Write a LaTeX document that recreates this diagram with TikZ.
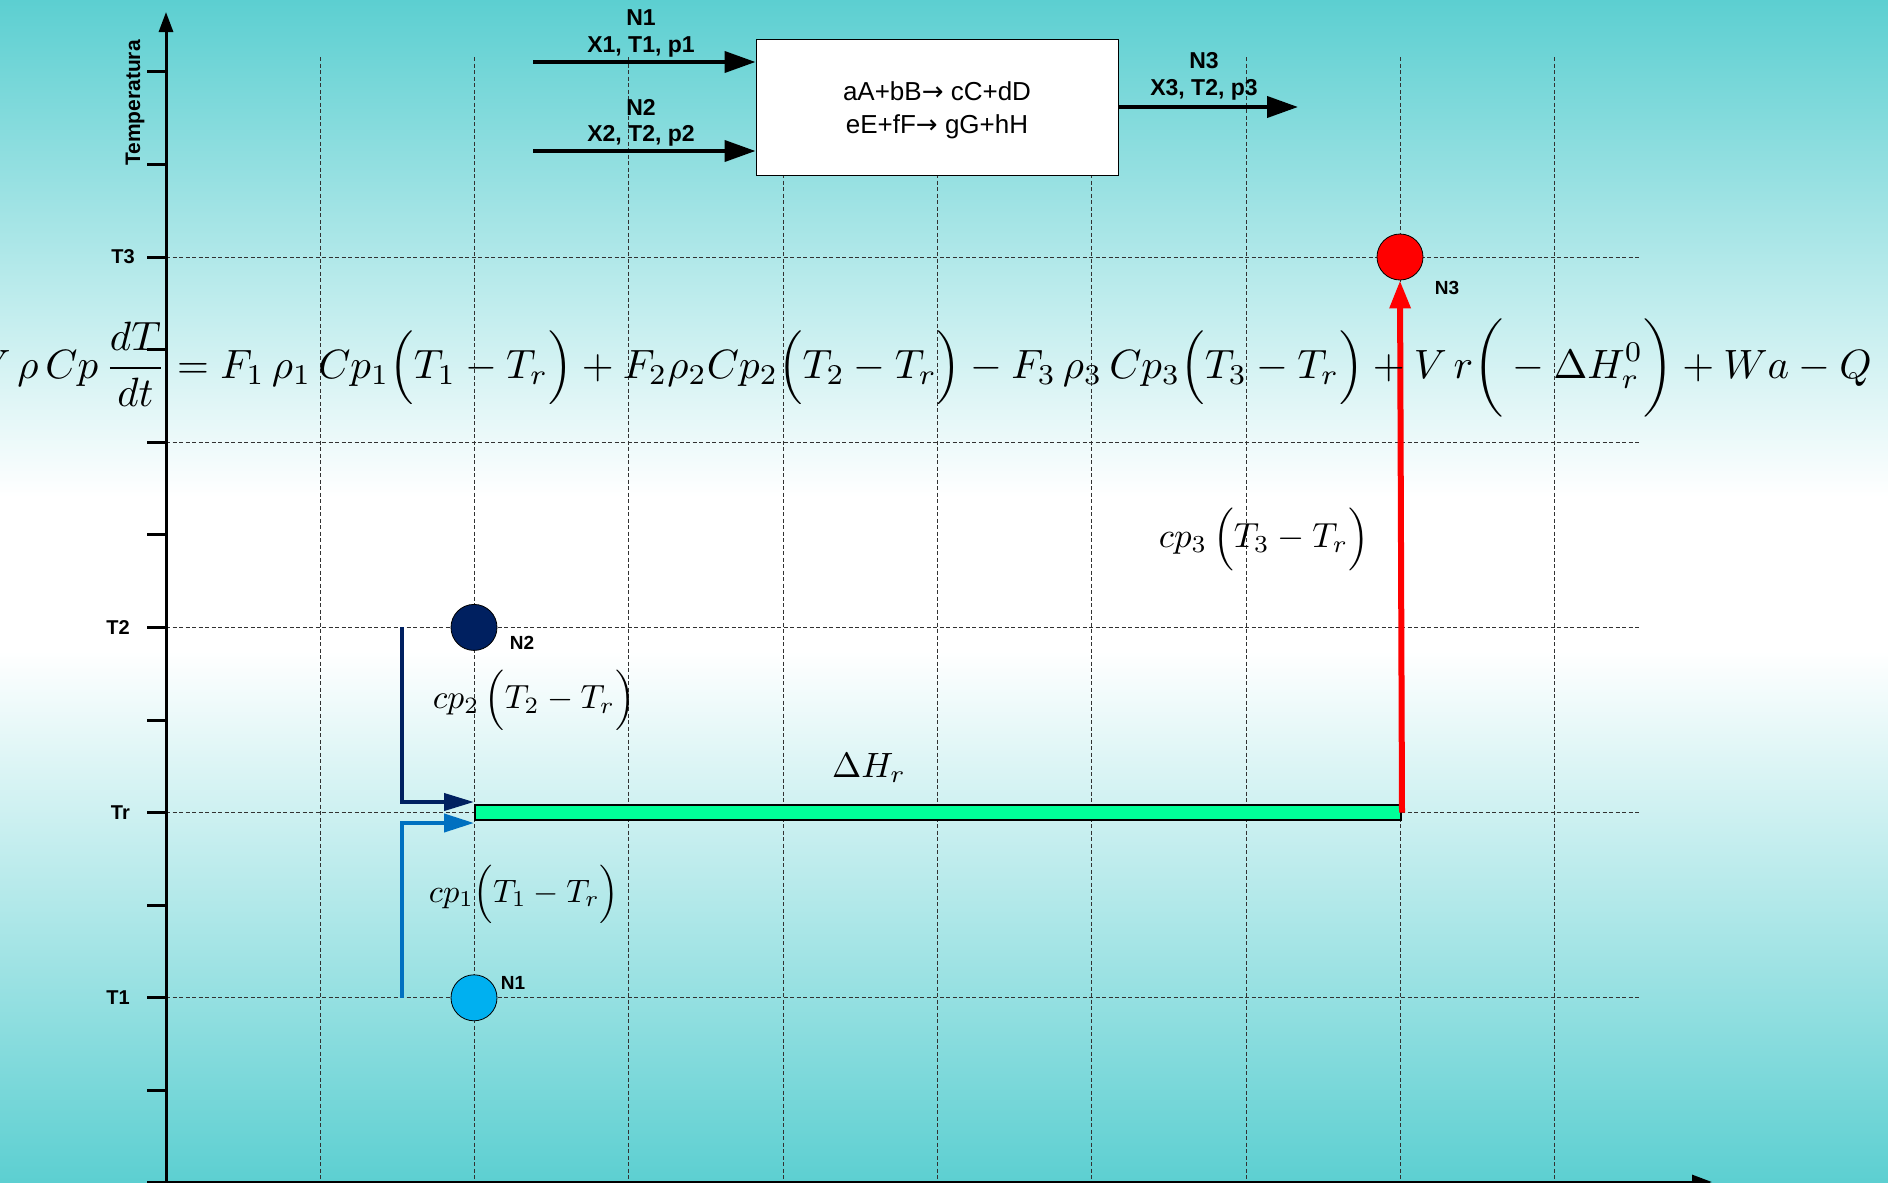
\documentclass[tikz,border=0pt]{standalone}
\usepackage{fontspec}
\setmainfont{Liberation Sans}
\newfontfamily\arrowfont{DejaVu Sans}
\usepackage{amsmath}
\usepackage{graphicx}
\usetikzlibrary{arrows.meta}
\definecolor{bgteal}{RGB}{92,207,209}
\definecolor{navyc}{RGB}{0,32,96}
\definecolor{cyanc}{RGB}{0,176,240}
\definecolor{bluec}{RGB}{0,112,192}
\definecolor{greenbar}{RGB}{0,255,153}
\definecolor{gridc}{RGB}{50,50,50}
\pgfdeclareverticalshading{bgshade}{100bp}{color(0bp)=(bgteal); color(25bp)=(bgteal); color(47.5bp)=(white); color(54bp)=(white); color(75bp)=(bgteal); color(100bp)=(bgteal)}
\begin{document}
\begin{tikzpicture}[x=1pt,y=-1pt,
  gridline/.style={draw=gridc, line width=0.9pt, dash pattern=on 4pt off 2.5pt},
  tickmark/.style={draw=black, line width=3pt},
  flowarrow/.style={draw=black, line width=4pt, -{Triangle[length=31pt,width=21pt]}},
  boldlbl/.style={font=\fontsize{23}{25}\selectfont\bfseries, inner sep=0pt},
  axislbl/.style={font=\fontsize{20}{22}\selectfont\bfseries, inner sep=0pt, anchor=east},
  ptlbl/.style={font=\fontsize{19}{21}\selectfont\bfseries, inner sep=0pt},
  dot/.style={circle, draw=black, line width=0.8pt, minimum size=46pt, inner sep=0pt},
  mathlbl/.style={inner sep=0pt}]
\useasboundingbox (0,0) rectangle (1888,1183);
\begin{scope}
\clip (0,0) rectangle (1888,1183);
\shade[shading=bgshade] (0,0) rectangle (1888,1183);

% grid
\foreach \m in {1,...,9} {
  \draw[gridline] ({166+154.3*\m},57) -- ({166+154.3*\m},1183);
}
\foreach \yy in {257,442,627.4,812.6,997.8} {
  \draw[gridline] (166,\yy) -- (1641,\yy);
}

% axes
\draw[line width=3pt, -{Triangle[length=20pt,width=14pt]}] (166,1183) -- (166,12);
\draw[line width=3pt, -{Triangle[length=20pt,width=14pt]}] (147,1182) -- (1712,1182);
\foreach \n in {1,...,12} {
  \draw[tickmark] (147,{1183-92.6*\n}) -- (166,{1183-92.6*\n});
}
\node[axislbl] (lT3) at (135,257) {T3};
\node[axislbl] (lT2) at (130,627.4) {T2};
\node[axislbl] (lTr) at (130,812.6) {Tr};
\node[axislbl] (lT1) at (130,997.8) {T1};
\node[rotate=90, font=\fontsize{21}{23}\selectfont\bfseries, inner sep=0pt] (ytitle) at (135,103) {Temperatura};

% reactor box
\node[draw=black, line width=1pt, fill=white, minimum width=362pt, minimum height=136pt] (reactor) at (937,107) {};
\node[align=center, font=\fontsize{26}{33}\selectfont, inner sep=0pt] (reacttext) at (937,110)
      {aA+bB{\arrowfont →} cC+dD\\eE+fF{\arrowfont →} gG+hH};

\coordinate (in1) at (533,62);
\coordinate (in2) at (533,151);
\coordinate (out3) at (1298,107);
\draw[flowarrow] (in1) -- (in1 -| reactor.west);
\draw[flowarrow] (in2) -- (in2 -| reactor.west);
\draw[flowarrow] (reactor.east) -- (out3);
\node[boldlbl] (tN1) at (641,18) {N1};
\node[boldlbl] (tX1) at (641,47) {X1, T1, p1};
\node[boldlbl] (tN2) at (641,107) {N2};
\node[boldlbl] (tX2) at (641,136) {X2, T2, p2};
\node[boldlbl] (tN3) at (1204,61) {N3};
\node[boldlbl] (tX3) at (1204,90) {X3, T2, p3};

% energy path
\node[draw=black, line width=2pt, fill=greenbar, anchor=west, minimum width=926pt,
      minimum height=15pt, inner sep=0pt] (bar) at (474,812.6) {};
\node[dot, fill=red] (n3) at (1400,257) {};
\node[dot, fill=navyc] (n2) at (474,627.4) {};
\node[dot, fill=cyanc] (n1) at (474,997.8) {};
\node[ptlbl] (ln3) at (1447,288) {N3};
\node[ptlbl] (ln2) at (522,643) {N2};
\node[ptlbl] (ln1) at (513,983) {N1};

\coordinate (s2) at (402,627.4);
\coordinate (e2) at (474,802);
\coordinate (s1) at (402,997.8);
\coordinate (e1) at (474,823);
\draw[navyc, line width=4pt, -{Triangle[length=30pt,width=17pt]}] (s2) |- (e2);
\draw[bluec, line width=4pt, -{Triangle[length=30pt,width=18pt]}] (s1) |- (e1);
\draw[red, line width=6pt, -{Triangle[length=28pt,width=20pt]}] (bar.east) -- (n3.south);

% math labels
\node[mathlbl] (m3) at (1264,539) {\resizebox{210pt}{!}{$cp_3\,\Big(T_3-T_r\Big)$}};
\node[mathlbl] (m2) at (534,700) {\resizebox{202pt}{!}{$cp_2\,\Big(T_2-T_r\Big)$}};
\node[mathlbl] (m1) at (524,894) {\resizebox{190pt}{!}{$cp_1\Big(T_1-T_r\Big)$}};
\node[mathlbl] (mH) at (869,768) {\resizebox{74pt}{!}{$\Delta H_r$}};

% equation
\node[inner sep=0pt, anchor=base east] (eq) at (1872,378) {\resizebox{1894pt}{!}{$\displaystyle
 V\,\rho\, Cp\,\frac{dT}{dt}=F_1\,\rho_1\,Cp_1\Big(T_1-T_r\Big)+F_2\rho_2Cp_2\Big(T_2-T_r\Big)-F_3\,\rho_3\,Cp_3\Big(T_3-T_r\Big)+V\,r\bigg(-\Delta H_r^0\bigg)+Wa-Q$}};
\end{scope}
\end{tikzpicture}
\end{document}
